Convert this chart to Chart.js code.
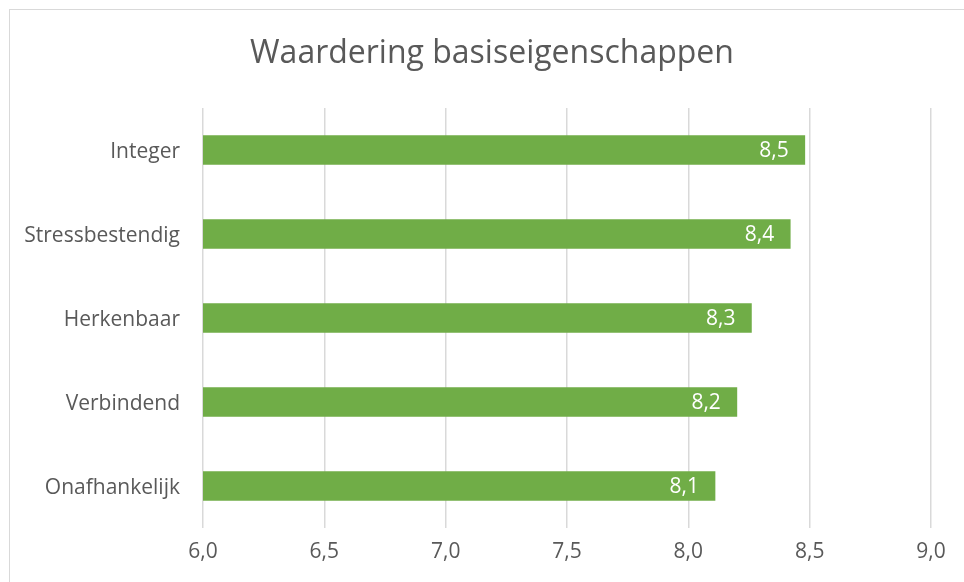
<!DOCTYPE html>
<html>
<head>
<meta charset="utf-8">
<script src="https://cdn.jsdelivr.net/npm/chart.js@4"></script>
<style>
  html, body { margin: 0; padding: 0; background: #fff; }
  #wrap { width: 964px; height: 582px; position: relative; }
</style>
</head>
<body>
<div id="wrap"><canvas id="grafiek" width="964" height="582"></canvas></div>
<script>
// data
const categorieen = ['Integer', 'Stressbestendig', 'Herkenbaar', 'Verbindend', 'Onafhankelijk'];
const scores = [8.48, 8.42, 8.26, 8.20, 8.11];
const titel = 'Waardering basiseigenschappen';
const asMin = 6.0;
const asMax = 9.0;
const asStap = 0.5;

const groen = '#70AD47';
const grijsTekst = '#595959';
const lettertype = "'Open Sans', Lato, sans-serif";

const komma = v => Number(v).toFixed(1).replace('.', ',');

// rand + titel (Excel centreert de titel over het hele grafiekvlak)
const randPlugin = {
    id: 'rand',
    beforeDraw(chart) {
        const ctx = chart.ctx;
        ctx.save();
        ctx.strokeStyle = '#d9d9d9';
        ctx.lineWidth = 1;
        ctx.strokeRect(9.5, 9.5, 1200, 1200);
        ctx.fillStyle = grijsTekst;
        ctx.font = "32px " + lettertype;
        ctx.textAlign = 'center';
        ctx.textBaseline = 'middle';
        ctx.fillText(titel, 492, 54);
        ctx.restore();
    }
};

// waardelabels binnen het einde van de balk
const labelPlugin = {
    id: 'waardeLabels',
    afterDatasetsDraw(chart) {
        const ctx = chart.ctx;
        const meta = chart.getDatasetMeta(0);
        ctx.save();
        ctx.fillStyle = '#ffffff';
        ctx.font = "21px " + lettertype;
        ctx.textAlign = 'right';
        ctx.textBaseline = 'middle';
        meta.data.forEach((bar, i) => {
            ctx.fillText(komma(scores[i]), bar.x - 16, bar.y + 1);
        });
        ctx.restore();
    }
};

new Chart(document.getElementById('grafiek'), {
    type: 'bar',
    data: {
        labels: categorieen,
        datasets: [{
            data: scores,
            backgroundColor: groen,
            borderWidth: 0,
            barThickness: 29
        }]
    },
    options: {
        indexAxis: 'y',
        responsive: false,
        animation: false,
        layout: { padding: { left: 0, right: 33, top: 108, bottom: 0 } },
        plugins: {
            legend: { display: false },
            tooltip: { enabled: false },
            title: { display: false }
        },
        scales: {
            x: {
                min: asMin,
                max: asMax,
                ticks: {
                    stepSize: asStap,
                    color: grijsTekst,
                    font: { family: lettertype, size: 21 },
                    padding: 11,
                    callback: v => komma(v)
                },
                grid: { color: '#d9d9d9', lineWidth: 1.5, drawTicks: false },
                border: { display: false },
                afterFit: s => { s.height = 54; }
            },
            y: {
                ticks: {
                    color: grijsTekst,
                    font: { family: lettertype, size: 21 },
                    padding: 23,
                    labelOffset: 2
                },
                grid: { display: false, drawTicks: false },
                border: { display: false },
                afterFit: s => { s.width = 203; }
            }
        }
    },
    plugins: [randPlugin, labelPlugin]
});
</script>
</body>
</html>
